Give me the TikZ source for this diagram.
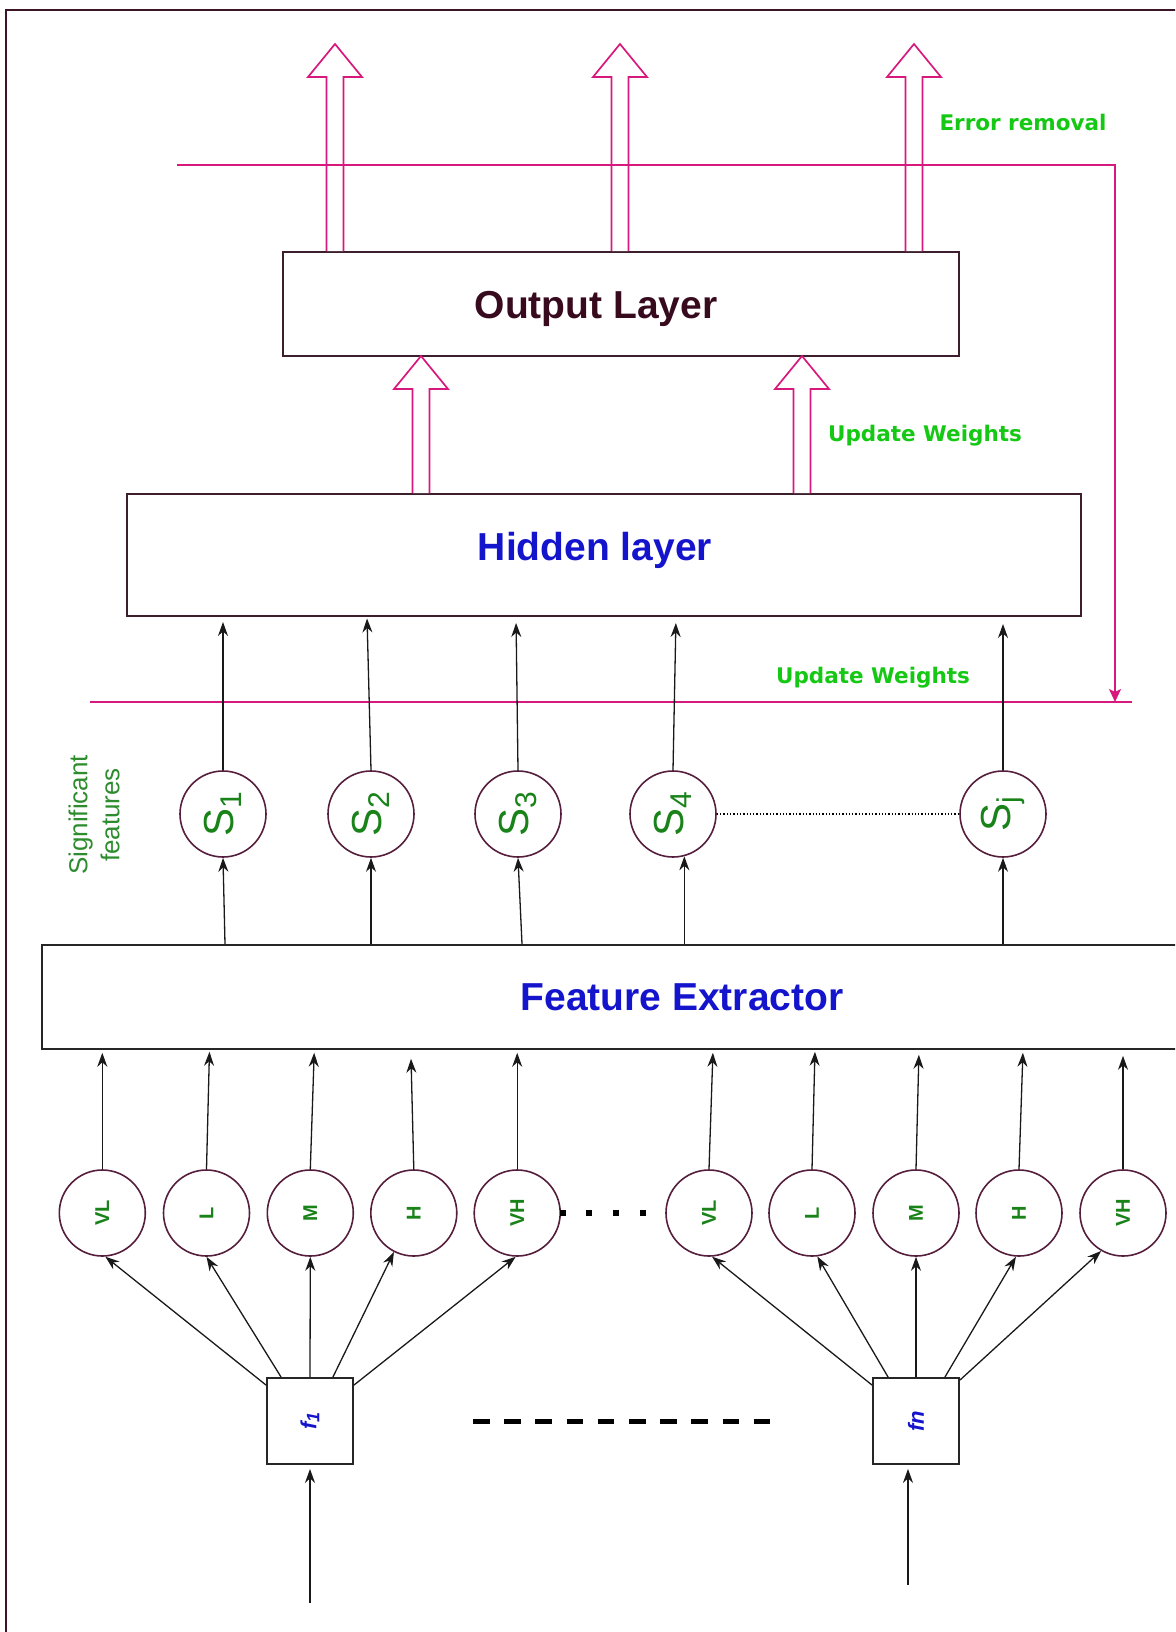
\documentclass[tikz,border=0pt]{standalone}
\usepackage{fontspec}
\setmainfont{Liberation Sans}
\newfontfamily\notefont{DejaVu Sans}
\usetikzlibrary{arrows.meta,calc}

\definecolor{framecol}{RGB}{60,20,40}
\definecolor{boxcol}{RGB}{60,30,45}
\definecolor{circcol}{RGB}{85,30,60}
\definecolor{pinkc}{RGB}{215,25,125}
\definecolor{brightgreen}{RGB}{20,200,20}
\definecolor{labgreen}{RGB}{25,130,25}
\definecolor{siggreen}{RGB}{45,140,45}
\definecolor{bluec}{RGB}{20,20,205}
\definecolor{outtext}{RGB}{55,10,30}

\newcommand{\slab}[1]{\rotatebox{90}{\fontsize{42}{42}\selectfont S\raisebox{-8pt}{\fontsize{30}{30}\selectfont #1}}}
\newcommand{\flab}[1]{\rotatebox{90}{\fontsize{20}{20}\selectfont\bfseries #1}}

\tikzset{
  layerbox/.style={draw=boxcol, line width=2pt, rectangle, inner sep=0pt},
  febox/.style={draw=black!85, line width=1.8pt, rectangle, inner sep=0pt},
  fbx/.style={draw=black!85, line width=1.8pt, rectangle, minimum size=86pt, inner sep=0pt, text=bluec},
  scirc/.style={circle, draw=circcol, line width=1.6pt, minimum size=86pt, inner sep=0pt, text=labgreen},
  fuzz/.style={circle, draw=circcol, line width=1.6pt, minimum size=86pt, inner sep=0pt, text=labgreen},
  titletxt/.style={font=\fontsize{39}{41}\selectfont\bfseries, inner sep=0pt},
  notelbl/.style={font=\notefont\bfseries\fontsize{21.5}{24}\selectfont, text=brightgreen, inner sep=0pt},
  arr/.style={-{Stealth[length=14pt,width=10pt]}, line width=1.3pt, black!90},
  pinkline/.style={draw=pinkc, line width=2pt},
  hollow/.style={draw=pinkc, fill=white, line width=1.7pt, line join=miter},
  pics/hollowup/.style={code={
    \draw[hollow] (-8.5,0) -- (-8.5,{-#1+33}) -- (-27,{-#1+33}) -- (0,{-#1})
      -- (27,{-#1+33}) -- (8.5,{-#1+33}) -- (8.5,0);
  }},
}

\begin{document}
\begin{tikzpicture}[x=1pt,y=-1pt]
\useasboundingbox (0,0) rectangle (1175,1632);
\clip (0,0) rectangle (1175,1632);

% outer frame
\draw[draw=framecol, line width=2pt] (6,1640) -- (6,10) -- (1180,10);

% layer boxes
\node[layerbox, minimum width=676pt, minimum height=104pt] (out) at (621,304) {};
\node[titletxt, text=outtext] (outlbl) at (596,309) {Output Layer};
\node[layerbox, minimum width=954pt, minimum height=122pt] (hid) at (604,555) {};
\node[titletxt, text=bluec] (hidlbl) at (595,550) {Hidden layer};
\node[febox, anchor=north west, minimum width=1250pt, minimum height=104pt] (fe) at (41,944) {};
\node[titletxt, text=bluec] (felbl) at (682,997) {Feature Extractor};

% hollow output arrows
\pic at ($(out.north west)+(53,0)$) {hollowup=207};
\pic at ($(out.north west)+(338,0)$) {hollowup=207};
\pic at ($(out.north west)+(632,0)$) {hollowup=207};
% hollow arrows hidden -> output
\pic at ($(hid.north west)+(295,0)$) {hollowup=137};
\pic at ($(hid.north west)+(676,0)$) {hollowup=137};

% feedback lines
\coordinate (errL) at (177,165);
\coordinate (errR) at (1115,165);
\coordinate (updL) at (90,702);
\coordinate (updR) at (1132,702);
\draw[pinkline] (updL) -- (updR);
\draw[pinkline, -{Stealth[length=13pt,width=12pt,inset=3pt]}] (errL) -- (errR) -- (errR |- updL);

\node[notelbl] (err) at (1023,122) {Error removal};
\node[notelbl] (uw1) at (925,436) {Update Weights};
\node[notelbl] (uw2) at (873,678) {Update Weights};

% significant features
\node[scirc] (s1) at (223,814) {\slab{1}};
\node[scirc] (s2) at (371,814) {\slab{2}};
\node[scirc] (s3) at (518,814) {\slab{3}};
\node[scirc] (s4) at (673,814) {\slab{4}};
\node[scirc] (sj) at (1003,814) {\slab{j}};
\draw[dotted, line width=1.3pt] (s4) -- (sj);
\node[rotate=90, align=center, text=siggreen, inner sep=0pt,
      font=\fontsize{26}{32}\selectfont] (sig) at (94,815) {Significant\\features};

\draw[arr, shorten >=5pt] (s1.north) -- (s1.north |- hid.south);
\draw[arr, shorten >=1.5pt] (s2.north) -- ([xshift=-4pt]s2.north |- hid.south);
\draw[arr, shorten >=6pt] (s3.north) -- ([xshift=-2pt]s3.north |- hid.south);
\draw[arr, shorten >=6pt] (s4.north) -- ([xshift=3pt]s4.north |- hid.south);
\draw[arr, shorten >=7pt] (sj.north) -- (sj.north |- hid.south);

\draw[arr] ([xshift=2pt]s1.south |- fe.north) -- (s1.south);
\draw[arr] (s2.south |- fe.north) -- (s2.south);
\draw[arr] ([xshift=4pt]s3.south |- fe.north) -- (s3.south);
\draw[arr] (s4.-75 |- fe.north) -- (s4.-75);
\draw[arr] (sj.south |- fe.north) -- (sj.south);

% fuzzy membership nodes
\node[fuzz] (a1) at (102.3,1213) {\flab{VL}};
\node[fuzz] (a2) at (206.5,1213) {\flab{L}};
\node[fuzz] (a3) at (310.3,1213) {\flab{M}};
\node[fuzz] (a4) at (413.8,1213) {\flab{H}};
\node[fuzz] (a5) at (517.2,1213) {\flab{VH}};
\node[fuzz] (b1) at (709,1213) {\flab{VL}};
\node[fuzz] (b2) at (812,1213) {\flab{L}};
\node[fuzz] (b3) at (916,1213) {\flab{M}};
\node[fuzz] (b4) at (1019,1213) {\flab{H}};
\node[fuzz] (b5) at (1123,1213) {\flab{VH}};

\foreach \n/\dx/\gap in {a1/0/3, a2/3/2, a3/4/3, a4/-3/9, a5/0/3,
                         b1/4/3, b2/3/2, b3/3/5, b4/4/3, b5/0/6}
  \draw[arr, shorten >=\gap pt] (\n.north) -- ([xshift=\dx pt]\n.north |- fe.south);

% ellipsis between the groups
\foreach \x in {563,589,616,643}
  \fill[black] (\x-3,1210) rectangle (\x+3,1216);

% input feature boxes
\node[fbx] (f1) at (310,1421) {\rotatebox{90}{\fontsize{22}{22}\selectfont\bfseries\itshape f\raisebox{-3pt}{\fontsize{18}{18}\selectfont 1}}};
\node[fbx] (fn) at (916,1421) {\rotatebox{90}{\fontsize{22}{22}\selectfont\bfseries\itshape fn}};

\draw[arr] ($(f1.north west)+(0,8)$) -- (a1.-86);
\draw[arr] ($(f1.north west)+(15,0)$) -- (a2.-90);
\draw[arr] (f1.north) -- (a3.south);
\draw[arr] ($(f1.north east)+(-21,0)$) -- (a4.-117);
\draw[arr] ($(f1.north east)+(0,8)$) -- (a5.-92);

\draw[arr] ($(fn.north west)+(0,8)$) -- (b1.-86);
\draw[arr] ($(fn.north west)+(16,0)$) -- (b2.-83);
\draw[arr] (fn.north) -- (b3.south);
\draw[arr] ($(fn.north east)+(-15,0)$) -- (b4.-94);
\draw[arr] ($(fn.north east)+(0,3)$) -- (b5.-120);

\draw[line width=5pt, dash pattern=on 16.5pt off 14.7pt] (473,1421.7) -- (770,1421.7);

\coordinate (in1) at (310,1603);
\coordinate (inn) at (908,1585);
\draw[arr, shorten >=4pt] (in1) -- (in1 |- f1.south);
\draw[arr, shorten >=4pt] (inn) -- (inn |- fn.south);
\end{tikzpicture}
\end{document}
